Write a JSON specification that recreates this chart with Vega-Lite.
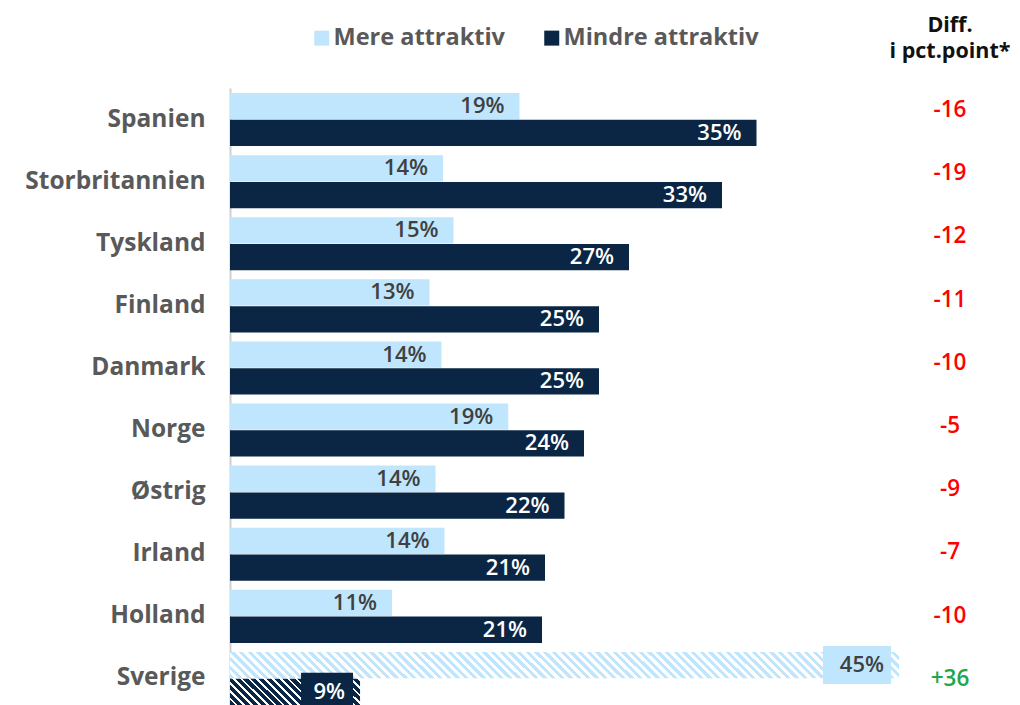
{
 "$schema": "https://vega.github.io/schema/vega-lite/v6.json",
 "width": 790,
 "height": 617,
 "autosize": {"type": "none"},
 "padding": {"left": 230, "top": 88, "right": 0, "bottom": 0},
 "config": {"font": "Open Sans", "view": {"stroke": null}, "locale": {"number": {"decimal": ".", "thousands": ",", "grouping": [3], "currency": ["", ""], "minus": "-"}}},
 "title": {"text": ["Diff.", "i pct.point*"], "frame": "group", "anchor": "end", "align": "center", "dx": -70, "fontSize": 21.5, "fontWeight": 700, "color": "#111111", "lineHeight": 26, "offset": -36},
 "datasets": {
  "andele": [
   {"land": "Spanien", "serie": "Mere attraktiv", "andel": 0.193},
   {"land": "Spanien", "serie": "Mindre attraktiv", "andel": 0.351},
   {"land": "Storbritannien", "serie": "Mere attraktiv", "andel": 0.142},
   {"land": "Storbritannien", "serie": "Mindre attraktiv", "andel": 0.328},
   {"land": "Tyskland", "serie": "Mere attraktiv", "andel": 0.149},
   {"land": "Tyskland", "serie": "Mindre attraktiv", "andel": 0.266},
   {"land": "Finland", "serie": "Mere attraktiv", "andel": 0.133},
   {"land": "Finland", "serie": "Mindre attraktiv", "andel": 0.246},
   {"land": "Danmark", "serie": "Mere attraktiv", "andel": 0.141},
   {"land": "Danmark", "serie": "Mindre attraktiv", "andel": 0.246},
   {"land": "Norge", "serie": "Mere attraktiv", "andel": 0.1855},
   {"land": "Norge", "serie": "Mindre attraktiv", "andel": 0.236},
   {"land": "Østrig", "serie": "Mere attraktiv", "andel": 0.137},
   {"land": "Østrig", "serie": "Mindre attraktiv", "andel": 0.223},
   {"land": "Irland", "serie": "Mere attraktiv", "andel": 0.143},
   {"land": "Irland", "serie": "Mindre attraktiv", "andel": 0.21},
   {"land": "Holland", "serie": "Mere attraktiv", "andel": 0.108},
   {"land": "Holland", "serie": "Mindre attraktiv", "andel": 0.208},
   {"land": "Sverige", "serie": "Mere attraktiv", "andel": 0.446},
   {"land": "Sverige", "serie": "Mindre attraktiv", "andel": 0.0867}
  ],
  "diff": [
   {"land": "Spanien", "diff": -16},
   {"land": "Storbritannien", "diff": -19},
   {"land": "Tyskland", "diff": -12},
   {"land": "Finland", "diff": -11},
   {"land": "Danmark", "diff": -10},
   {"land": "Norge", "diff": -5},
   {"land": "Østrig", "diff": -9},
   {"land": "Irland", "diff": -7},
   {"land": "Holland", "diff": -10},
   {"land": "Sverige", "diff": 36}
  ]
 },
 "layer": [
  {
   "data": {"name": "andele"},
   "encoding": {
    "y": {"field": "land", "type": "nominal",
     "scale": {"domain": ["Spanien", "Storbritannien", "Tyskland", "Finland", "Danmark", "Norge", "Østrig", "Irland", "Holland", "Sverige"], "paddingInner": 0.145, "paddingOuter": 0.0405, "align": 1},
     "axis": {"title": null, "ticks": false, "domainColor": "#d0d0d0", "domainWidth": 2, "labelFontSize": 24.5, "labelFontWeight": 700, "labelColor": "#595959", "labelPadding": 25, "labelLimit": 300}},
    "yOffset": {"field": "serie", "type": "nominal", "scale": {"paddingInner": 0.02}},
    "x": {"field": "andel", "type": "quantitative", "scale": {"domain": [0, 0.52667], "nice": false, "zero": true}, "axis": null}
   },
   "layer": [
    {
     "transform": [{"filter": "datum.land !== 'Sverige'"}],
     "mark": {"type": "bar"},
     "encoding": {
      "color": {"field": "serie", "type": "nominal",
       "scale": {"domain": ["Mere attraktiv", "Mindre attraktiv"], "range": ["#bfe6fd", "#0a2644"]},
       "legend": {"orient": "none", "legendX": 80, "legendY": -62, "direction": "horizontal", "title": null, "symbolType": "square", "symbolSize": 225, "symbolOpacity": 1, "symbolStrokeWidth": 0, "labelFontSize": 23.5, "labelFontWeight": 700, "labelColor": "#595959", "labelOffset": 0, "labelLimit": 400, "columnPadding": 35, "padding": 0}}
     }
    },
    {
     "transform": [{"filter": "datum.land === 'Sverige' && datum.serie === 'Mere attraktiv'"}],
     "mark": {"type": "bar", "fill": {"gradient": "linear", "x1": 0, "y1": 1, "x2": 1.03797, "y2": 0.95888, "stops": [
{"offset":0,"color":"#bfe6fd"},
{"offset":0.00625,"color":"#bfe6fd"},{"offset":0.00625,"color":"#fff"},{"offset":0.0125,"color":"#fff"},{"offset":0.0125,"color":"#bfe6fd"},{"offset":0.01875,"color":"#bfe6fd"},{"offset":0.01875,"color":"#fff"},{"offset":0.025,"color":"#fff"},{"offset":0.025,"color":"#bfe6fd"},{"offset":0.03125,"color":"#bfe6fd"},{"offset":0.03125,"color":"#fff"},{"offset":0.0375,"color":"#fff"},{"offset":0.0375,"color":"#bfe6fd"},{"offset":0.04375,"color":"#bfe6fd"},{"offset":0.04375,"color":"#fff"},{"offset":0.05,"color":"#fff"},{"offset":0.05,"color":"#bfe6fd"},
{"offset":0.05625,"color":"#bfe6fd"},{"offset":0.05625,"color":"#fff"},{"offset":0.0625,"color":"#fff"},{"offset":0.0625,"color":"#bfe6fd"},{"offset":0.06875,"color":"#bfe6fd"},{"offset":0.06875,"color":"#fff"},{"offset":0.075,"color":"#fff"},{"offset":0.075,"color":"#bfe6fd"},{"offset":0.08125,"color":"#bfe6fd"},{"offset":0.08125,"color":"#fff"},{"offset":0.0875,"color":"#fff"},{"offset":0.0875,"color":"#bfe6fd"},{"offset":0.09375,"color":"#bfe6fd"},{"offset":0.09375,"color":"#fff"},{"offset":0.1,"color":"#fff"},{"offset":0.1,"color":"#bfe6fd"},
{"offset":0.10625,"color":"#bfe6fd"},{"offset":0.10625,"color":"#fff"},{"offset":0.1125,"color":"#fff"},{"offset":0.1125,"color":"#bfe6fd"},{"offset":0.11875,"color":"#bfe6fd"},{"offset":0.11875,"color":"#fff"},{"offset":0.125,"color":"#fff"},{"offset":0.125,"color":"#bfe6fd"},{"offset":0.13125,"color":"#bfe6fd"},{"offset":0.13125,"color":"#fff"},{"offset":0.1375,"color":"#fff"},{"offset":0.1375,"color":"#bfe6fd"},{"offset":0.14375,"color":"#bfe6fd"},{"offset":0.14375,"color":"#fff"},{"offset":0.15,"color":"#fff"},{"offset":0.15,"color":"#bfe6fd"},
{"offset":0.15625,"color":"#bfe6fd"},{"offset":0.15625,"color":"#fff"},{"offset":0.1625,"color":"#fff"},{"offset":0.1625,"color":"#bfe6fd"},{"offset":0.16875,"color":"#bfe6fd"},{"offset":0.16875,"color":"#fff"},{"offset":0.175,"color":"#fff"},{"offset":0.175,"color":"#bfe6fd"},{"offset":0.18125,"color":"#bfe6fd"},{"offset":0.18125,"color":"#fff"},{"offset":0.1875,"color":"#fff"},{"offset":0.1875,"color":"#bfe6fd"},{"offset":0.19375,"color":"#bfe6fd"},{"offset":0.19375,"color":"#fff"},{"offset":0.2,"color":"#fff"},{"offset":0.2,"color":"#bfe6fd"},
{"offset":0.20625,"color":"#bfe6fd"},{"offset":0.20625,"color":"#fff"},{"offset":0.2125,"color":"#fff"},{"offset":0.2125,"color":"#bfe6fd"},{"offset":0.21875,"color":"#bfe6fd"},{"offset":0.21875,"color":"#fff"},{"offset":0.225,"color":"#fff"},{"offset":0.225,"color":"#bfe6fd"},{"offset":0.23125,"color":"#bfe6fd"},{"offset":0.23125,"color":"#fff"},{"offset":0.2375,"color":"#fff"},{"offset":0.2375,"color":"#bfe6fd"},{"offset":0.24375,"color":"#bfe6fd"},{"offset":0.24375,"color":"#fff"},{"offset":0.25,"color":"#fff"},{"offset":0.25,"color":"#bfe6fd"},
{"offset":0.25625,"color":"#bfe6fd"},{"offset":0.25625,"color":"#fff"},{"offset":0.2625,"color":"#fff"},{"offset":0.2625,"color":"#bfe6fd"},{"offset":0.26875,"color":"#bfe6fd"},{"offset":0.26875,"color":"#fff"},{"offset":0.275,"color":"#fff"},{"offset":0.275,"color":"#bfe6fd"},{"offset":0.28125,"color":"#bfe6fd"},{"offset":0.28125,"color":"#fff"},{"offset":0.2875,"color":"#fff"},{"offset":0.2875,"color":"#bfe6fd"},{"offset":0.29375,"color":"#bfe6fd"},{"offset":0.29375,"color":"#fff"},{"offset":0.3,"color":"#fff"},{"offset":0.3,"color":"#bfe6fd"},
{"offset":0.30625,"color":"#bfe6fd"},{"offset":0.30625,"color":"#fff"},{"offset":0.3125,"color":"#fff"},{"offset":0.3125,"color":"#bfe6fd"},{"offset":0.31875,"color":"#bfe6fd"},{"offset":0.31875,"color":"#fff"},{"offset":0.325,"color":"#fff"},{"offset":0.325,"color":"#bfe6fd"},{"offset":0.33125,"color":"#bfe6fd"},{"offset":0.33125,"color":"#fff"},{"offset":0.3375,"color":"#fff"},{"offset":0.3375,"color":"#bfe6fd"},{"offset":0.34375,"color":"#bfe6fd"},{"offset":0.34375,"color":"#fff"},{"offset":0.35,"color":"#fff"},{"offset":0.35,"color":"#bfe6fd"},
{"offset":0.35625,"color":"#bfe6fd"},{"offset":0.35625,"color":"#fff"},{"offset":0.3625,"color":"#fff"},{"offset":0.3625,"color":"#bfe6fd"},{"offset":0.36875,"color":"#bfe6fd"},{"offset":0.36875,"color":"#fff"},{"offset":0.375,"color":"#fff"},{"offset":0.375,"color":"#bfe6fd"},{"offset":0.38125,"color":"#bfe6fd"},{"offset":0.38125,"color":"#fff"},{"offset":0.3875,"color":"#fff"},{"offset":0.3875,"color":"#bfe6fd"},{"offset":0.39375,"color":"#bfe6fd"},{"offset":0.39375,"color":"#fff"},{"offset":0.4,"color":"#fff"},{"offset":0.4,"color":"#bfe6fd"},
{"offset":0.40625,"color":"#bfe6fd"},{"offset":0.40625,"color":"#fff"},{"offset":0.4125,"color":"#fff"},{"offset":0.4125,"color":"#bfe6fd"},{"offset":0.41875,"color":"#bfe6fd"},{"offset":0.41875,"color":"#fff"},{"offset":0.425,"color":"#fff"},{"offset":0.425,"color":"#bfe6fd"},{"offset":0.43125,"color":"#bfe6fd"},{"offset":0.43125,"color":"#fff"},{"offset":0.4375,"color":"#fff"},{"offset":0.4375,"color":"#bfe6fd"},{"offset":0.44375,"color":"#bfe6fd"},{"offset":0.44375,"color":"#fff"},{"offset":0.45,"color":"#fff"},{"offset":0.45,"color":"#bfe6fd"},
{"offset":0.45625,"color":"#bfe6fd"},{"offset":0.45625,"color":"#fff"},{"offset":0.4625,"color":"#fff"},{"offset":0.4625,"color":"#bfe6fd"},{"offset":0.46875,"color":"#bfe6fd"},{"offset":0.46875,"color":"#fff"},{"offset":0.475,"color":"#fff"},{"offset":0.475,"color":"#bfe6fd"},{"offset":0.48125,"color":"#bfe6fd"},{"offset":0.48125,"color":"#fff"},{"offset":0.4875,"color":"#fff"},{"offset":0.4875,"color":"#bfe6fd"},{"offset":0.49375,"color":"#bfe6fd"},{"offset":0.49375,"color":"#fff"},{"offset":0.5,"color":"#fff"},{"offset":0.5,"color":"#bfe6fd"},
{"offset":0.50625,"color":"#bfe6fd"},{"offset":0.50625,"color":"#fff"},{"offset":0.5125,"color":"#fff"},{"offset":0.5125,"color":"#bfe6fd"},{"offset":0.51875,"color":"#bfe6fd"},{"offset":0.51875,"color":"#fff"},{"offset":0.525,"color":"#fff"},{"offset":0.525,"color":"#bfe6fd"},{"offset":0.53125,"color":"#bfe6fd"},{"offset":0.53125,"color":"#fff"},{"offset":0.5375,"color":"#fff"},{"offset":0.5375,"color":"#bfe6fd"},{"offset":0.54375,"color":"#bfe6fd"},{"offset":0.54375,"color":"#fff"},{"offset":0.55,"color":"#fff"},{"offset":0.55,"color":"#bfe6fd"},
{"offset":0.55625,"color":"#bfe6fd"},{"offset":0.55625,"color":"#fff"},{"offset":0.5625,"color":"#fff"},{"offset":0.5625,"color":"#bfe6fd"},{"offset":0.56875,"color":"#bfe6fd"},{"offset":0.56875,"color":"#fff"},{"offset":0.575,"color":"#fff"},{"offset":0.575,"color":"#bfe6fd"},{"offset":0.58125,"color":"#bfe6fd"},{"offset":0.58125,"color":"#fff"},{"offset":0.5875,"color":"#fff"},{"offset":0.5875,"color":"#bfe6fd"},{"offset":0.59375,"color":"#bfe6fd"},{"offset":0.59375,"color":"#fff"},{"offset":0.6,"color":"#fff"},{"offset":0.6,"color":"#bfe6fd"},
{"offset":0.60625,"color":"#bfe6fd"},{"offset":0.60625,"color":"#fff"},{"offset":0.6125,"color":"#fff"},{"offset":0.6125,"color":"#bfe6fd"},{"offset":0.61875,"color":"#bfe6fd"},{"offset":0.61875,"color":"#fff"},{"offset":0.625,"color":"#fff"},{"offset":0.625,"color":"#bfe6fd"},{"offset":0.63125,"color":"#bfe6fd"},{"offset":0.63125,"color":"#fff"},{"offset":0.6375,"color":"#fff"},{"offset":0.6375,"color":"#bfe6fd"},{"offset":0.64375,"color":"#bfe6fd"},{"offset":0.64375,"color":"#fff"},{"offset":0.65,"color":"#fff"},{"offset":0.65,"color":"#bfe6fd"},
{"offset":0.65625,"color":"#bfe6fd"},{"offset":0.65625,"color":"#fff"},{"offset":0.6625,"color":"#fff"},{"offset":0.6625,"color":"#bfe6fd"},{"offset":0.66875,"color":"#bfe6fd"},{"offset":0.66875,"color":"#fff"},{"offset":0.675,"color":"#fff"},{"offset":0.675,"color":"#bfe6fd"},{"offset":0.68125,"color":"#bfe6fd"},{"offset":0.68125,"color":"#fff"},{"offset":0.6875,"color":"#fff"},{"offset":0.6875,"color":"#bfe6fd"},{"offset":0.69375,"color":"#bfe6fd"},{"offset":0.69375,"color":"#fff"},{"offset":0.7,"color":"#fff"},{"offset":0.7,"color":"#bfe6fd"},
{"offset":0.70625,"color":"#bfe6fd"},{"offset":0.70625,"color":"#fff"},{"offset":0.7125,"color":"#fff"},{"offset":0.7125,"color":"#bfe6fd"},{"offset":0.71875,"color":"#bfe6fd"},{"offset":0.71875,"color":"#fff"},{"offset":0.725,"color":"#fff"},{"offset":0.725,"color":"#bfe6fd"},{"offset":0.73125,"color":"#bfe6fd"},{"offset":0.73125,"color":"#fff"},{"offset":0.7375,"color":"#fff"},{"offset":0.7375,"color":"#bfe6fd"},{"offset":0.74375,"color":"#bfe6fd"},{"offset":0.74375,"color":"#fff"},{"offset":0.75,"color":"#fff"},{"offset":0.75,"color":"#bfe6fd"},
{"offset":0.75625,"color":"#bfe6fd"},{"offset":0.75625,"color":"#fff"},{"offset":0.7625,"color":"#fff"},{"offset":0.7625,"color":"#bfe6fd"},{"offset":0.76875,"color":"#bfe6fd"},{"offset":0.76875,"color":"#fff"},{"offset":0.775,"color":"#fff"},{"offset":0.775,"color":"#bfe6fd"},{"offset":0.78125,"color":"#bfe6fd"},{"offset":0.78125,"color":"#fff"},{"offset":0.7875,"color":"#fff"},{"offset":0.7875,"color":"#bfe6fd"},{"offset":0.79375,"color":"#bfe6fd"},{"offset":0.79375,"color":"#fff"},{"offset":0.8,"color":"#fff"},{"offset":0.8,"color":"#bfe6fd"},
{"offset":0.80625,"color":"#bfe6fd"},{"offset":0.80625,"color":"#fff"},{"offset":0.8125,"color":"#fff"},{"offset":0.8125,"color":"#bfe6fd"},{"offset":0.81875,"color":"#bfe6fd"},{"offset":0.81875,"color":"#fff"},{"offset":0.825,"color":"#fff"},{"offset":0.825,"color":"#bfe6fd"},{"offset":0.83125,"color":"#bfe6fd"},{"offset":0.83125,"color":"#fff"},{"offset":0.8375,"color":"#fff"},{"offset":0.8375,"color":"#bfe6fd"},{"offset":0.84375,"color":"#bfe6fd"},{"offset":0.84375,"color":"#fff"},{"offset":0.85,"color":"#fff"},{"offset":0.85,"color":"#bfe6fd"},
{"offset":0.85625,"color":"#bfe6fd"},{"offset":0.85625,"color":"#fff"},{"offset":0.8625,"color":"#fff"},{"offset":0.8625,"color":"#bfe6fd"},{"offset":0.86875,"color":"#bfe6fd"},{"offset":0.86875,"color":"#fff"},{"offset":0.875,"color":"#fff"},{"offset":0.875,"color":"#bfe6fd"},{"offset":0.88125,"color":"#bfe6fd"},{"offset":0.88125,"color":"#fff"},{"offset":0.8875,"color":"#fff"},{"offset":0.8875,"color":"#bfe6fd"},{"offset":0.89375,"color":"#bfe6fd"},{"offset":0.89375,"color":"#fff"},{"offset":0.9,"color":"#fff"},{"offset":0.9,"color":"#bfe6fd"},
{"offset":0.90625,"color":"#bfe6fd"},{"offset":0.90625,"color":"#fff"},{"offset":0.9125,"color":"#fff"},{"offset":0.9125,"color":"#bfe6fd"},{"offset":0.91875,"color":"#bfe6fd"},{"offset":0.91875,"color":"#fff"},{"offset":0.925,"color":"#fff"},{"offset":0.925,"color":"#bfe6fd"},{"offset":0.93125,"color":"#bfe6fd"},{"offset":0.93125,"color":"#fff"},{"offset":0.9375,"color":"#fff"},{"offset":0.9375,"color":"#bfe6fd"},{"offset":0.94375,"color":"#bfe6fd"},{"offset":0.94375,"color":"#fff"},{"offset":0.95,"color":"#fff"},{"offset":0.95,"color":"#bfe6fd"},
{"offset":0.95625,"color":"#bfe6fd"},{"offset":0.95625,"color":"#fff"},{"offset":0.9625,"color":"#fff"},{"offset":0.9625,"color":"#bfe6fd"},{"offset":0.96875,"color":"#bfe6fd"},{"offset":0.96875,"color":"#fff"},{"offset":0.975,"color":"#fff"},{"offset":0.975,"color":"#bfe6fd"},{"offset":0.98125,"color":"#bfe6fd"},{"offset":0.98125,"color":"#fff"},{"offset":0.9875,"color":"#fff"},{"offset":0.9875,"color":"#bfe6fd"},{"offset":0.99375,"color":"#bfe6fd"},{"offset":0.99375,"color":"#fff"},{"offset":1,"color":"#fff"}
     ]}}
    },
    {
     "transform": [{"filter": "datum.land === 'Sverige' && datum.serie === 'Mindre attraktiv'"}],
     "mark": {"type": "bar", "fill": {"gradient": "linear", "x1": 0, "y1": 1, "x2": 1.1558, "y2": 0.7644, "stops": [
{"offset":0,"color":"#0a2644"},{"offset":0.033,"color":"#0a2644"},{"offset":0.033,"color":"#fff"},{"offset":0.05,"color":"#fff"},
{"offset":0.05,"color":"#0a2644"},{"offset":0.083,"color":"#0a2644"},{"offset":0.083,"color":"#fff"},{"offset":0.1,"color":"#fff"},
{"offset":0.1,"color":"#0a2644"},{"offset":0.133,"color":"#0a2644"},{"offset":0.133,"color":"#fff"},{"offset":0.15,"color":"#fff"},
{"offset":0.15,"color":"#0a2644"},{"offset":0.183,"color":"#0a2644"},{"offset":0.183,"color":"#fff"},{"offset":0.2,"color":"#fff"},
{"offset":0.2,"color":"#0a2644"},{"offset":0.233,"color":"#0a2644"},{"offset":0.233,"color":"#fff"},{"offset":0.25,"color":"#fff"},
{"offset":0.25,"color":"#0a2644"},{"offset":0.283,"color":"#0a2644"},{"offset":0.283,"color":"#fff"},{"offset":0.3,"color":"#fff"},
{"offset":0.3,"color":"#0a2644"},{"offset":0.333,"color":"#0a2644"},{"offset":0.333,"color":"#fff"},{"offset":0.35,"color":"#fff"},
{"offset":0.35,"color":"#0a2644"},{"offset":0.383,"color":"#0a2644"},{"offset":0.383,"color":"#fff"},{"offset":0.4,"color":"#fff"},
{"offset":0.4,"color":"#0a2644"},{"offset":0.433,"color":"#0a2644"},{"offset":0.433,"color":"#fff"},{"offset":0.45,"color":"#fff"},
{"offset":0.45,"color":"#0a2644"},{"offset":0.483,"color":"#0a2644"},{"offset":0.483,"color":"#fff"},{"offset":0.5,"color":"#fff"},
{"offset":0.5,"color":"#0a2644"},{"offset":0.533,"color":"#0a2644"},{"offset":0.533,"color":"#fff"},{"offset":0.55,"color":"#fff"},
{"offset":0.55,"color":"#0a2644"},{"offset":0.583,"color":"#0a2644"},{"offset":0.583,"color":"#fff"},{"offset":0.6,"color":"#fff"},
{"offset":0.6,"color":"#0a2644"},{"offset":0.633,"color":"#0a2644"},{"offset":0.633,"color":"#fff"},{"offset":0.65,"color":"#fff"},
{"offset":0.65,"color":"#0a2644"},{"offset":0.683,"color":"#0a2644"},{"offset":0.683,"color":"#fff"},{"offset":0.7,"color":"#fff"},
{"offset":0.7,"color":"#0a2644"},{"offset":0.733,"color":"#0a2644"},{"offset":0.733,"color":"#fff"},{"offset":0.75,"color":"#fff"},
{"offset":0.75,"color":"#0a2644"},{"offset":0.783,"color":"#0a2644"},{"offset":0.783,"color":"#fff"},{"offset":0.8,"color":"#fff"},
{"offset":0.8,"color":"#0a2644"},{"offset":0.833,"color":"#0a2644"},{"offset":0.833,"color":"#fff"},{"offset":0.85,"color":"#fff"},
{"offset":0.85,"color":"#0a2644"},{"offset":0.883,"color":"#0a2644"},{"offset":0.883,"color":"#fff"},{"offset":0.9,"color":"#fff"},
{"offset":0.9,"color":"#0a2644"},{"offset":0.933,"color":"#0a2644"},{"offset":0.933,"color":"#fff"},{"offset":0.95,"color":"#fff"},
{"offset":0.95,"color":"#0a2644"},{"offset":0.983,"color":"#0a2644"},{"offset":0.983,"color":"#fff"},{"offset":1,"color":"#fff"}
     ]}}
    },
    {
     "transform": [{"filter": "datum.land === 'Sverige' && datum.serie === 'Mere attraktiv'"}],
     "mark": {"type": "point", "shape": "M-76,-19H-8V19H-76Z", "size": 4, "filled": true, "color": "#bfe6fd", "opacity": 1, "strokeWidth": 0}
    },
    {
     "transform": [{"filter": "datum.land === 'Sverige' && datum.serie === 'Mindre attraktiv'"}],
     "mark": {"type": "point", "shape": "M-59,-19H-7V19H-59Z", "size": 4, "filled": true, "color": "#0a2644", "opacity": 1, "strokeWidth": 0}
    },
    {
     "mark": {"type": "text", "align": "right", "baseline": "middle", "dx": -15, "fontSize": 22, "fontWeight": 600},
     "encoding": {
      "text": {"field": "andel", "type": "quantitative", "format": ".0%"},
      "color": {"condition": {"test": "datum.serie === 'Mindre attraktiv'", "value": "#ffffff"}, "value": "#404040"}
     }
    }
   ]
  },
  {
   "data": {"name": "diff"},
   "mark": {"type": "text", "align": "center", "baseline": "middle", "fontSize": 22.5, "fontWeight": 600},
   "encoding": {
    "y": {"field": "land", "type": "nominal", "scale": {"type": "point", "domain": ["Spanien", "Storbritannien", "Tyskland", "Finland", "Danmark", "Norge", "Østrig", "Irland", "Holland", "Sverige"], "padding": 0.3814, "align": 0.456}, "axis": null},
    "x": {"datum": 0.48, "type": "quantitative", "scale": {"domain": [0, 0.52667], "nice": false}},
    "text": {"field": "diff", "type": "quantitative", "format": "+d"},
    "color": {"condition": {"test": "datum.diff > 0", "value": "#21a649"}, "value": "#ff0000"}
   }
  }
 ],
 "resolve": {"scale": {"y": "independent"}}
}
